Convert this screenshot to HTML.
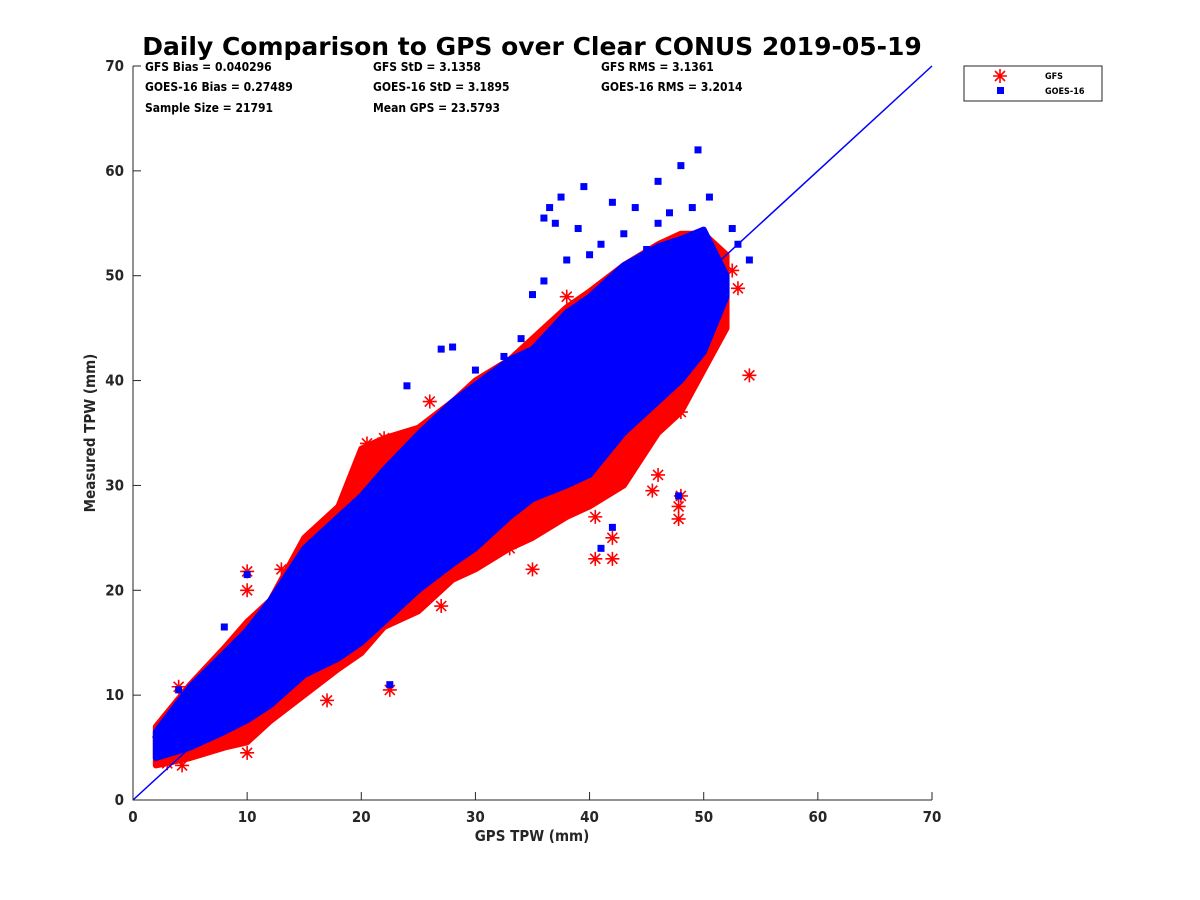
<!DOCTYPE html>
<html><head><meta charset="utf-8"><style>
body{margin:0;background:#fff}
svg{display:block}
text{font-family:"DejaVu Sans Condensed","DejaVu Sans","Liberation Sans",sans-serif;font-weight:bold;fill:#262626}
</style></head><body>
<svg id="chart" width="1200" height="900">
<rect width="1200" height="900" fill="#fff"/>
<text x="532" y="55" font-size="25" text-anchor="middle" style="fill:#000;font-family:'DejaVu Sans',sans-serif">Daily Comparison to GPS over Clear CONUS 2019-05-19</text>
<g id="plot"></g>
<g font-size="12">
<text x="145" y="71" style="fill:#000">GFS Bias = 0.040296</text>
<text x="373" y="71" style="fill:#000">GFS StD = 3.1358</text>
<text x="601" y="71" style="fill:#000">GFS RMS = 3.1361</text>
<text x="145" y="91" style="fill:#000">GOES-16 Bias = 0.27489</text>
<text x="373" y="91" style="fill:#000">GOES-16 StD = 3.1895</text>
<text x="601" y="91" style="fill:#000">GOES-16 RMS = 3.2014</text>
<text x="145" y="112" style="fill:#000">Sample Size = 21791</text>
<text x="373" y="112" style="fill:#000">Mean GPS = 23.5793</text>
</g>
<g>
<rect x="964" y="66" width="138" height="35" fill="#fff" stroke="#262626" stroke-width="1"/>
<g>
<path d="M1000 69V83M993 76H1007M995 71L1005 81M995 81L1005 71" stroke="#f00" stroke-width="1.6"/>
<text x="1045" y="79" font-size="9" style="fill:#000">GFS</text></g>
<g>
<rect x="997" y="87" width="7" height="7" fill="#00f"/>
<text x="1045" y="94" font-size="9" style="fill:#000">GOES-16</text></g>
</g>
<text x="532" y="841" font-size="15" text-anchor="middle">GPS TPW (mm)</text>
<text x="0" y="0" font-size="15" text-anchor="middle" transform="translate(95,433) rotate(-90)">Measured TPW (mm)</text>
</svg>
<script>
const ticks=[0,10,20,30,40,50,60,70];
const envX=[2,5,8,10,12,15,18,20,22,25,28,30,33,35,38,40,43,46,48,50,52];
const redLo=[3.3,4,5,5.5,7.5,10,12.5,14,16.5,18,21,22,24,25,27,28,30,35,37,41,45];
const redHi=[7,11,14.5,17,19,25,28,33.5,34.5,35.5,38,40,42,44,47,48.5,51,53,54,54,52];
const blueLo=[4,5,6.5,7.6,9,11.9,13.5,15,17,20,22.5,24,27,28.7,30,31,35,38,40,42.7,48];
const blueHi=[6.5,10.8,14,16.2,19,24,27,29,31.5,34.9,38,39.6,42,43,46.5,48,51,52.8,53.5,54.4,50];
const gfsX=[4,10,10,10,13,22.5,35,40.5,42,42,47.8,47.8,48,54,53,52.5,38,44,45.5,46,42,40.5,22,21.5,26,45,17,14,19,27,35,37,48,51,2.3,3,4.3,8.5,20.5,23,30,33,36,44.5,49];
const gfsY=[10.8,21.8,20,4.5,22,10.5,22,23,23,25,26.8,28,37,40.5,48.8,50.5,48,33.5,29.5,31,30.5,27,34.5,33.3,38,36,9.5,15.5,18.5,18.5,27.5,30,29,45.5,6,3.5,3.3,12,34,34,23,24,28,35.5,42];
const goesX=[49.5,48,46,50.5,39.5,37.5,36.5,42,44,41,39,37,36,38,46,52.5,54,27,28,24,42,47.8,41,22.5,10,8,4,36,35,50,53,34,32.5,43,45,47,49,40,44,30];
const goesY=[62,60.5,59,57.5,58.5,57.5,56.5,57,56.5,53,54.5,55,55.5,51.5,55,54.5,51.5,43,43.2,39.5,26,29,24,11,21.5,16.5,10.5,49.5,48.2,49,53,44,42.3,54,52.5,56,56.5,52,50,41];
const X0=133,X1=932,Y0=800,Y1=66;
const sx=v=>X0+(v/70)*(X1-X0), sy=v=>Y0-(v/70)*(Y0-Y1);
const NS='http://www.w3.org/2000/svg', g=document.getElementById('plot');
function mk(t,a){const e=document.createElementNS(NS,t);for(const k in a)e.setAttribute(k,a[k]);g.appendChild(e);return e;}
function band(lo,hi){let d='M'+envX.map((x,i)=>sx(x)+' '+sy(hi[i])).join('L');for(let i=envX.length-1;i>=0;i--)d+='L'+sx(envX[i])+' '+sy(lo[i]);return d+'Z';}
const rb=mk('path',{d:band(redLo,redHi),fill:'#f00',stroke:'#f00','stroke-width':6,'stroke-linejoin':'round'});


gfsX.forEach((x,i)=>{const cx=sx(x),cy=sy(gfsY[i]);const p=mk('path',{d:`M${cx} ${cy-7}V${cy+7}M${cx-7} ${cy}H${cx+7}M${cx-5} ${cy-5}L${cx+5} ${cy+5}M${cx-5} ${cy+5}L${cx+5} ${cy-5}`,stroke:'#f00','stroke-width':1.6});

});
const bb=mk('path',{d:band(blueLo,blueHi),fill:'#00f',stroke:'#00f','stroke-width':6,'stroke-linejoin':'round'});


goesX.forEach((x,i)=>{const r=mk('rect',{x:sx(x)-3.5,y:sy(goesY[i])-3.5,width:7,height:7,fill:'#00f'});

});
const ln=mk('line',{x1:sx(0),y1:sy(0),x2:sx(70),y2:sy(70),stroke:'#00f','stroke-width':1.5});


const ax=mk('path',{d:`M${X0} ${Y1}V${Y0}H${X1}`,stroke:'#262626',fill:'none','stroke-width':1});


ticks.forEach(t=>{
 mk('line',{x1:sx(t),x2:sx(t),y1:Y0,y2:Y0-8,stroke:'#262626'});
 mk('line',{x1:X0,x2:X0+8,y1:sy(t),y2:sy(t),stroke:'#262626'});
 const a=mk('text',{x:sx(t),y:Y0+22,'font-size':15,'text-anchor':'middle'});a.textContent=t;
 
 
 const b=mk('text',{x:X0-9,y:sy(t)+5,'font-size':15,'text-anchor':'end'});b.textContent=t;
 
 
});
</script>
</body></html>
